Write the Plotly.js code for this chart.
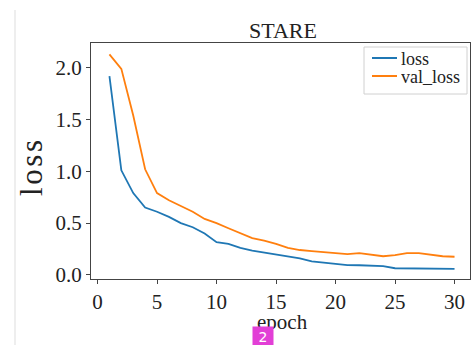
<!DOCTYPE html>
<html>
<head>
<meta charset="utf-8">
<script src="https://cdn.plot.ly/plotly-3.0.1.min.js"></script>
<style>html,body{margin:0;padding:0;background:#fff;}#chart{width:471px;height:345px;}</style>
</head>
<body>
<div id="chart"></div>
<script>
const epochs = [1,2,3,4,5,6,7,8,9,10,11,12,13,14,15,16,17,18,19,20,21,22,23,24,25,26,27,28,29,30];
const loss = [1.92,1.01,0.79,0.65,0.61,0.56,0.50,0.46,0.40,0.315,0.30,0.26,0.235,0.215,0.20,0.18,0.16,0.13,0.12,0.105,0.095,0.093,0.087,0.084,0.064,0.064,0.061,0.061,0.058,0.058];
const valLoss = [2.13,1.99,1.54,1.02,0.79,0.72,0.665,0.61,0.54,0.50,0.45,0.40,0.355,0.33,0.30,0.26,0.24,0.23,0.22,0.21,0.20,0.21,0.195,0.18,0.19,0.21,0.21,0.195,0.18,0.175];
const seriesNames = ['loss', 'val_loss'];
const seriesColors = ['#1f77b4', '#ff7f0e'];
const xTicks = [0,5,10,15,20,25,30];
const yTicks = [0.0,0.5,1.0,1.5,2.0];
const yTickText = ['0.0','0.5','1.0','1.5','2.0'];

const font = 'Liberation Serif, Times New Roman, serif';
const W = 471, H = 345, ML = 91, MR = 1, MT = 43, MB = 66;
const pw = W - ML - MR, ph = H - MT - MB;
const px = v => (v - ML) / pw;
const py = v => (H - MB - v) / ph;

const data = [
  {x: epochs, y: loss, name: seriesNames[0], mode: 'lines', line: {color: seriesColors[0], width: 1.8}},
  {x: epochs, y: valLoss, name: seriesNames[1], mode: 'lines', line: {color: seriesColors[1], width: 1.8}}
];
const axisCommon = {
  showgrid: false, zeroline: false, showline: true, mirror: true,
  linecolor: '#444', linewidth: 1, ticks: 'outside', ticklen: 4, tickcolor: '#444',
  tickfont: {family: font, size: 21, color: '#222'}
};

// compact matplotlib-like legend
const legendShapes = [
  {type: 'rect', xref: 'paper', yref: 'paper', x0: px(364), x1: px(467), y0: py(47), y1: py(94),
   line: {color: '#d0d0d0', width: 1}, fillcolor: 'rgba(255,255,255,0.9)', layer: 'above'}
];
const legendAnn = [];
const rowY = [58, 76];
seriesNames.forEach((n, i) => {
  legendShapes.push({type: 'line', xref: 'paper', yref: 'paper', x0: px(372), x1: px(397), y0: py(rowY[i]), y1: py(rowY[i]),
    line: {color: seriesColors[i], width: 2}, layer: 'above'});
  legendAnn.push({text: n, xref: 'paper', yref: 'paper', x: px(399), y: py(rowY[i]), xanchor: 'left', yanchor: 'middle',
    showarrow: false, font: {family: font, size: 18, color: '#222'}, height: 17});
});

const layout = {
  width: W, height: H,
  margin: {l: ML, r: MR, t: MT, b: MB},
  paper_bgcolor: '#fff', plot_bgcolor: '#fff',
  font: {family: font, color: '#222'},
  title: {text: 'STARE', font: {family: font, size: 22, color: '#222'}, x: px(283), xanchor: 'center', xref: 'paper', y: 1 - 30/H, yanchor: 'middle'},
  xaxis: Object.assign({}, axisCommon, {range: [-0.55, 31.3], tickvals: xTicks}),
  yaxis: Object.assign({}, axisCommon, {range: [-0.04, 2.24], tickvals: yTicks, ticktext: yTickText}),
  showlegend: false,
  shapes: [
    {type: 'line', xref: 'paper', yref: 'paper', x0: px(15), x1: px(15), y0: py(10), y1: py(345), line: {color: '#ddd', width: 1}}
  ].concat(legendShapes),
  annotations: legendAnn.concat([
    {text: 'epoch', xref: 'paper', yref: 'paper', x: px(282), y: py(322), xanchor: 'center', yanchor: 'middle', showarrow: false,
     font: {family: font, size: 21, color: '#222'}, height: 20},
    {text: 'l\u200Ao\u200As\u200As', xref: 'paper', yref: 'paper', x: px(31), y: py(168), xanchor: 'center', yanchor: 'middle', showarrow: false,
     textangle: -90, font: {family: font, size: 31, color: '#222'}},
    {text: '2', xref: 'paper', yref: 'paper', x: px(263), y: py(326), xanchor: 'center', yanchor: 'top', showarrow: false,
     bgcolor: '#e23fd6', font: {family: 'DejaVu Sans, sans-serif', size: 14, color: '#fff'}, width: 20, height: 19, borderpad: 0}
  ])
};
Plotly.newPlot('chart', data, layout, {displayModeBar: false, staticPlot: true});
</script>
</body>
</html>
